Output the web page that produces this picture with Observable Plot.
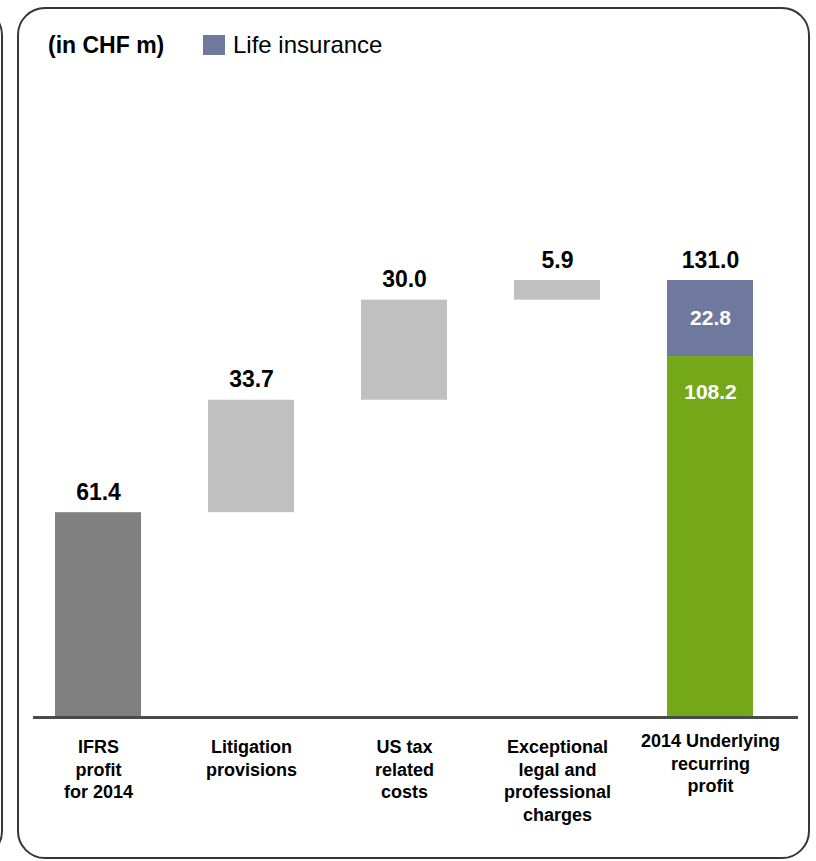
<!DOCTYPE html>
<html>
<head>
<meta charset="utf-8">
<script src="https://cdn.jsdelivr.net/npm/d3@7"></script>
<script src="https://cdn.jsdelivr.net/npm/@observablehq/plot@0.6"></script>
<style>
  body { margin: 0; background: #fff; font-family: "Liberation Sans", Arial, Helvetica, sans-serif; }
  #wrap { position: relative; width: 816px; height: 861px; overflow: hidden; }
  #chart { position: absolute; left: 0; top: 0; }
  .panel { position: absolute; border: 2px solid #363636; border-radius: 28px; box-sizing: border-box; pointer-events: none; }
  #prev { left: -401px; top: 7px; width: 404px; height: 852px; }
  #main { left: 17px; top: 7px; width: 793px; height: 852px; }
  .head { position: absolute; line-height: 1; white-space: nowrap; color: #000; }
  #unit { left: 48px; top: 34px; font-size: 23px; font-weight: bold; }
  #swatch { position: absolute; left: 203px; top: 35px; width: 22px; height: 20px; }
  #legendText { left: 233px; top: 33px; font-size: 24px; }
</style>
</head>
<body>
<div id="wrap">
  <div id="chart"></div>
  <div class="panel" id="prev"></div>
  <div class="panel" id="main"></div>
  <div class="head" id="unit"></div>
  <div id="swatch"></div>
  <div class="head" id="legendText"></div>
</div>
<script>
// Bridge from IFRS profit to underlying recurring profit, 2014 (CHF m)
const categories = [
  "IFRS\nprofit\nfor 2014",
  "Litigation\nprovisions",
  "US tax\nrelated\ncosts",
  "Exceptional\nlegal and\nprofessional\ncharges",
  "2014 Underlying\nrecurring\nprofit"
];
const ifrsProfit = 61.4;
const adjustments = [33.7, 30.0, 5.9];
const underlyingExLife = 108.2;
const lifeInsurance = 22.8;
const unitLabel = "(in CHF m)";
const legendLabel = "Life insurance";

const colors = {
  ifrs: "#808080",
  adjustment: "#c0c0c0",
  underlying: "#75a819",
  life: "#6f799e"
};

// Waterfall segments: each adjustment floats on the running total
const segments = [{cat: categories[0], y1: 0, y2: ifrsProfit, fill: colors.ifrs}];
const topLabels = [{cat: categories[0], y: ifrsProfit, text: ifrsProfit.toFixed(1)}];
let running = ifrsProfit;
adjustments.forEach((v, i) => {
  segments.push({cat: categories[i + 1], y1: running, y2: running + v, fill: colors.adjustment});
  running += v;
  topLabels.push({cat: categories[i + 1], y: running, text: v.toFixed(1)});
});
const last = categories[categories.length - 1];
const total = underlyingExLife + lifeInsurance;
segments.push({cat: last, y1: 0, y2: underlyingExLife, fill: colors.underlying});
segments.push({cat: last, y1: underlyingExLife, y2: total, fill: colors.life});
topLabels.push({cat: last, y: total, text: total.toFixed(1)});

const lifeLabel = [{cat: last, y: underlyingExLife + lifeInsurance / 2, text: lifeInsurance.toFixed(1)}];
const exLifeLabel = [{cat: last, y: underlyingExLife, text: underlyingExLife.toFixed(1)}];

const font = "'Liberation Sans', Arial, Helvetica, sans-serif";
const axisStyle = {tickSize: 0, fontSize: 18, fontWeight: "bold", lineHeight: 1.25, label: null, fill: "#000"};

const chart = Plot.plot({
  width: 816,
  height: 861,
  marginLeft: 33,
  marginRight: 18,
  marginTop: 0,
  marginBottom: 144,
  style: {fontFamily: font, background: "transparent", color: "#000"},
  x: {type: "band", domain: categories, range: [19, 788], paddingInner: 0.44, paddingOuter: 0.22, label: null},
  y: {domain: [0, 131], range: [717, 280], axis: null},
  color: {type: "identity"},
  marks: [
    Plot.barY(segments, {x: "cat", y1: "y1", y2: "y2", fill: "fill"}),
    Plot.ruleY([0], {stroke: "#4a4a4a", strokeWidth: 3}),
    Plot.text(topLabels, {x: "cat", y: "y", text: "text", dy: -13, lineAnchor: "bottom",
      fontSize: 23, fontWeight: "bold", fill: "#000"}),
    Plot.text(lifeLabel, {x: "cat", y: "y", text: "text", lineAnchor: "middle",
      fontSize: 21, fontWeight: "bold", fill: "#fff"}),
    Plot.text(exLifeLabel, {x: "cat", y: "y", text: "text", dy: 36, lineAnchor: "middle",
      fontSize: 21, fontWeight: "bold", fill: "#fff"}),
    // adjustment labels sit a little lower than the closing total's label
    Plot.axisX(categories.slice(0, -1), {...axisStyle, tickPadding: 20}),
    Plot.axisX([last], {...axisStyle, tickPadding: 14})
  ]
});
document.getElementById("chart").appendChild(chart);

document.getElementById("unit").textContent = unitLabel;
document.getElementById("legendText").textContent = legendLabel;
document.getElementById("swatch").style.background = colors.life;
</script>
</body>
</html>
